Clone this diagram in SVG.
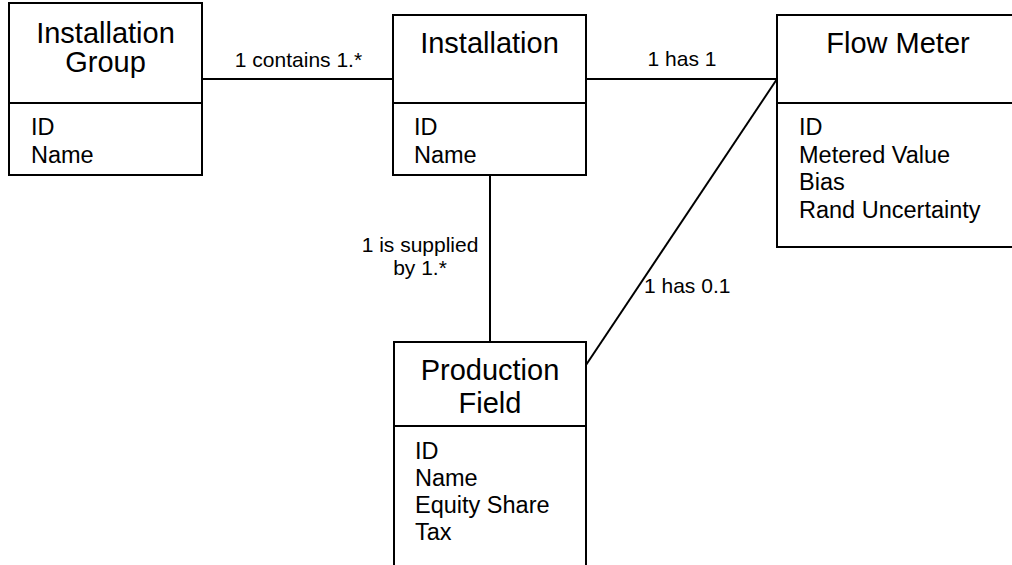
<svg xmlns="http://www.w3.org/2000/svg" width="1012" height="565" viewBox="0 0 1012 565">
  <style>
    .box { fill: #ffffff; stroke: #000000; stroke-width: 2; }
    .div { stroke: #000000; stroke-width: 2; }
    .title { font-family: "Liberation Sans", Arial, sans-serif; font-size: 29px; fill: #000000; text-anchor: middle; }
    .attr { font-family: "Liberation Sans", Arial, sans-serif; font-size: 23.5px; fill: #000000; }
    .lbl { font-family: "Liberation Sans", Arial, sans-serif; font-size: 21px; fill: #000000; }
    .edge { fill: none; stroke: #000000; stroke-width: 2; }
  </style>
  <rect width="1012" height="565" fill="#ffffff"/>

  <!-- associations -->
  <g id="connectors">
    <line class="edge" x1="202" y1="79" x2="393" y2="79"/>
    <line class="edge" x1="586" y1="79" x2="777" y2="79"/>
    <line class="edge" x1="490" y1="175" x2="490" y2="342"/>
    <line class="edge" x1="777" y1="79" x2="586" y2="365"/>
    <text class="lbl" x="298.5" y="67" text-anchor="middle">1 contains 1.*</text>
    <text class="lbl" x="682" y="66" text-anchor="middle">1 has 1</text>
    <text class="lbl" x="420" y="252" text-anchor="middle">1 is supplied</text>
    <text class="lbl" x="420" y="275" text-anchor="middle">by 1.*</text>
    <text class="lbl" x="644" y="293">1 has 0.1</text>
  </g>

  <!-- Installation Group -->
  <g id="installation-group">
    <rect class="box" x="9" y="3" width="193" height="172"/>
    <line class="div" x1="9" y1="103" x2="202" y2="103"/>
    <text class="title" x="105.5" y="43">Installation</text>
    <text class="title" x="105.5" y="72">Group</text>
    <text class="attr" x="31" y="135">ID</text>
    <text class="attr" x="31" y="163">Name</text>
  </g>

  <!-- Installation -->
  <g id="installation">
    <rect class="box" x="393" y="15" width="193" height="160"/>
    <line class="div" x1="393" y1="103" x2="586" y2="103"/>
    <text class="title" x="489.5" y="53">Installation</text>
    <text class="attr" x="414" y="135">ID</text>
    <text class="attr" x="414" y="163">Name</text>
  </g>

  <!-- Flow Meter -->
  <g id="flow-meter">
    <rect class="box" x="777" y="15" width="242" height="232"/>
    <line class="div" x1="777" y1="103" x2="1019" y2="103"/>
    <text class="title" x="898" y="53">Flow Meter</text>
    <text class="attr" x="799" y="135">ID</text>
    <text class="attr" x="799" y="163">Metered Value</text>
    <text class="attr" x="799" y="190">Bias</text>
    <text class="attr" x="799" y="218">Rand Uncertainty</text>
  </g>

  <!-- Production Field -->
  <g id="production-field">
    <rect class="box" x="394" y="342" width="192" height="240"/>
    <line class="div" x1="394" y1="426" x2="586" y2="426"/>
    <text class="title" x="490" y="380">Production</text>
    <text class="title" x="490" y="413">Field</text>
    <text class="attr" x="415" y="459">ID</text>
    <text class="attr" x="415" y="486">Name</text>
    <text class="attr" x="415" y="513">Equity Share</text>
    <text class="attr" x="415" y="540">Tax</text>
  </g>
</svg>
